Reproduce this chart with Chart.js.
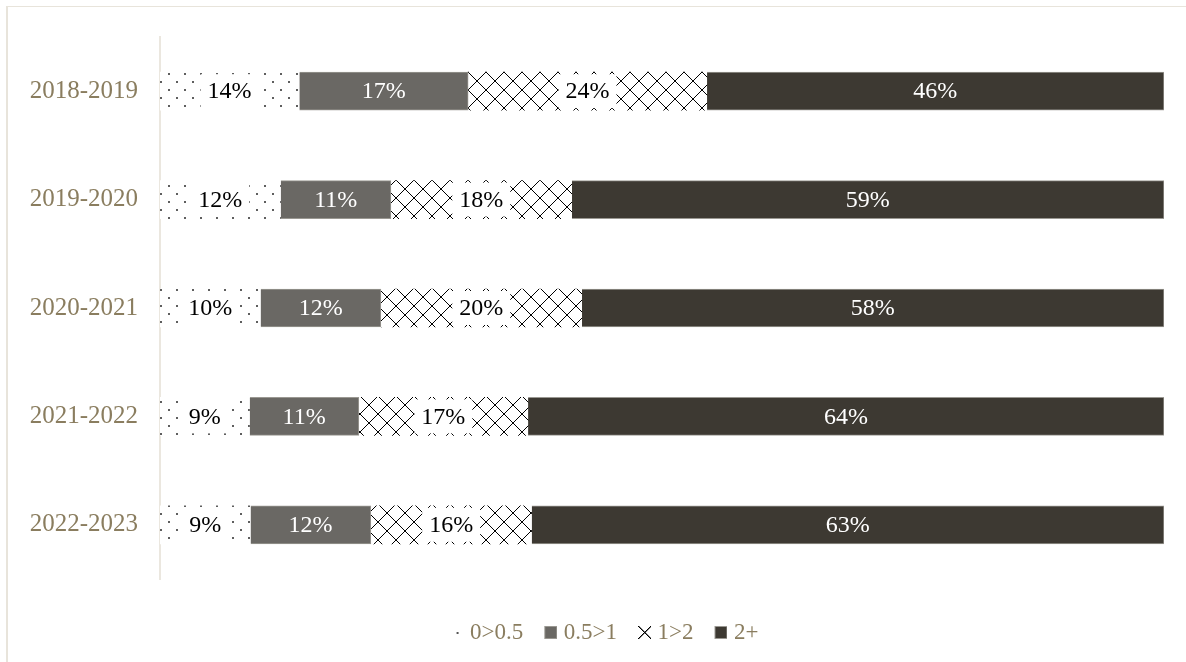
<!DOCTYPE html>
<html>
<head>
<meta charset="utf-8">
<script src="https://cdn.jsdelivr.net/npm/chart.js@4.4.0/dist/chart.umd.min.js"></script>
<style>
    html, body { margin: 0; padding: 0; background: #ffffff; overflow: hidden; }
    #wrap { position: relative; width: 1186px; height: 662px; }
    #frame {
        position: absolute; left: 6px; top: 6px; width: 1300px; height: 800px;
        border-left: 2px solid #e8e4db; border-top: 1px solid #e8e4db;
        pointer-events: none;
    }
</style>
</head>
<body>
<div id="wrap">
    <canvas id="shareChart" width="1186" height="662"></canvas>
    <div id="frame"></div>
</div>
<script>
// Seasons and share of each band (percent, as labelled)
const seasons = ['2018-2019', '2019-2020', '2020-2021', '2021-2022', '2022-2023'];
const bandNames = ['0>0.5', '0.5>1', '1>2', '2+'];
const share0to05 = [14, 12, 10, 9, 9];
const share05to1 = [17, 11, 12, 11, 12];
const share1to2 = [24, 18, 20, 17, 16];
const share2plus = [46, 59, 58, 64, 63];

const labelFont = "'Liberation Serif', 'Times New Roman', serif";
const khaki = '#8a7d5f';

// Pattern helpers
function makeDotPattern() {
    const c = document.createElement('canvas');
    c.width = 16; c.height = 16;
    const g = c.getContext('2d');
    g.fillStyle = '#ffffff';
    g.fillRect(0, 0, 16, 16);
    g.fillStyle = '#5e5e5e';
    g.fillRect(0, 1, 2, 2);
    g.fillRect(8, 9, 2, 2);
    return g.createPattern(c, 'repeat');
}

function makeCrossPattern() {
    const n = 18;
    const c = document.createElement('canvas');
    c.width = n; c.height = n;
    const g = c.getContext('2d');
    g.fillStyle = '#ffffff';
    g.fillRect(0, 0, n, n);
    g.fillStyle = '#000000';
    for (let i = 0; i < n; i++) {
        g.fillRect(i, i, 1, 1);
        g.fillRect(n - 1 - i, i, 1, 1);
    }
    return g.createPattern(c, 'repeat');
}

// Small canvases used as legend markers (drawn in the right part so the gap to the text is tight)
function legendIcon(kind, color) {
    const c = document.createElement('canvas');
    c.width = 23; c.height = 13;
    const g = c.getContext('2d');
    g.translate(10, 0);
    if (kind === 'dot') {
        g.fillStyle = '#555555';
        g.fillRect(6, 6, 2, 2);
    } else if (kind === 'cross') {
        g.fillStyle = '#000000';
        for (let i = 0; i < 13; i++) {
            g.fillRect(i, i, 1.5, 1);
            g.fillRect(12 - i, i, 1.5, 1);
        }
    } else {
        g.fillStyle = color;
        g.fillRect(0, 0, 13, 13);
        g.strokeStyle = '#9a9892';
        g.lineWidth = 1;
        g.strokeRect(0.5, 0.5, 12, 12);
    }
    return c;
}

const dotFill = makeDotPattern();
const crossFill = makeCrossPattern();
const icons = [
    legendIcon('dot'),
    legendIcon('square', '#6a6864'),
    legendIcon('cross'),
    legendIcon('square', '#3d3932')
];

// 100% stacked: scale every row to its own total
const rows = [share0to05, share05to1, share1to2, share2plus];
const totals = seasons.map((s, i) => rows.reduce((sum, r) => sum + r[i], 0));
const normalise = arr => arr.map((v, i) => v / totals[i] * 100);

// Draw value labels in the middle of each segment
const segmentLabels = {
    id: 'segmentLabels',
    afterLayout(chart) {
        // legend sits a little right of the canvas centre, like the original
        chart.legend.left += 40;
    },
    afterDatasetsDraw(chart) {
        const ctx = chart.ctx;
        ctx.save();
        ctx.font = '24px ' + labelFont;
        ctx.textAlign = 'center';
        ctx.textBaseline = 'middle';
        chart.data.datasets.forEach((ds, di) => {
            const meta = chart.getDatasetMeta(di);
            meta.data.forEach((bar, i) => {
                const p = bar.getProps(['x', 'y', 'base', 'height'], true);
                const cx = (p.x + p.base) / 2;
                const text = rows[di][i] + '%';
                if (ds.patterned) {
                    const w = ctx.measureText(text).width + 14;
                    ctx.fillStyle = '#ffffff';
                    ctx.fillRect(cx - w / 2, p.y - p.height / 2 + 2, w, p.height - 4);
                    ctx.fillStyle = '#000000';
                } else {
                    ctx.fillStyle = '#ffffff';
                }
                ctx.fillText(text, cx, p.y + 1);
            });
        });
        ctx.restore();
    }
};

const ctx = document.getElementById('shareChart').getContext('2d');
window.shareChart = new Chart(ctx, {
    type: 'bar',
    data: {
        labels: seasons,
        datasets: [
            { label: bandNames[0], data: normalise(share0to05), backgroundColor: dotFill, borderWidth: 0, patterned: true },
            { label: bandNames[1], data: normalise(share05to1), backgroundColor: '#6a6864', borderColor: '#9a9892', borderWidth: 1 },
            { label: bandNames[2], data: normalise(share1to2), backgroundColor: crossFill, borderWidth: 0, patterned: true },
            { label: bandNames[3], data: normalise(share2plus), backgroundColor: '#3d3932', borderColor: '#9a9892', borderWidth: 1 }
        ]
    },
    options: {
        indexAxis: 'y',
        responsive: false,
        animation: false,
        barThickness: 38,
        layout: {
            padding: { left: 0, right: 22, top: 37, bottom: 8 }
        },
        plugins: {
            tooltip: { enabled: false },
            legend: {
                position: 'bottom',
                labels: {
                    color: khaki,
                    font: { family: labelFont, size: 23 },
                    usePointStyle: true,
                    boxWidth: 13,
                    boxHeight: 13,
                    padding: 16,
                    generateLabels(chart) {
                        return chart.data.datasets.map((ds, i) => ({
                            text: ds.label,
                            fillStyle: 'transparent',
                            strokeStyle: 'transparent',
                            lineWidth: 0,
                            pointStyle: icons[i],
                            fontColor: khaki,
                            datasetIndex: i,
                            hidden: false
                        }));
                    }
                }
            }
        },
        scales: {
            x: {
                stacked: true,
                min: 0,
                max: 100,
                display: true,
                grid: { display: false, drawTicks: false },
                border: { display: false },
                ticks: { display: false },
                afterFit(scale) { scale.height = 26; }
            },
            y: {
                stacked: true,
                grid: { display: false, drawTicks: false },
                border: { display: true, color: '#ebe7df', width: 2 },
                ticks: {
                    color: khaki,
                    padding: 22,
                    font: { family: labelFont, size: 25 }
                },
                afterFit(scale) { scale.width = 160; }
            }
        }
    },
    plugins: [segmentLabels]
});
</script>
</body>
</html>
